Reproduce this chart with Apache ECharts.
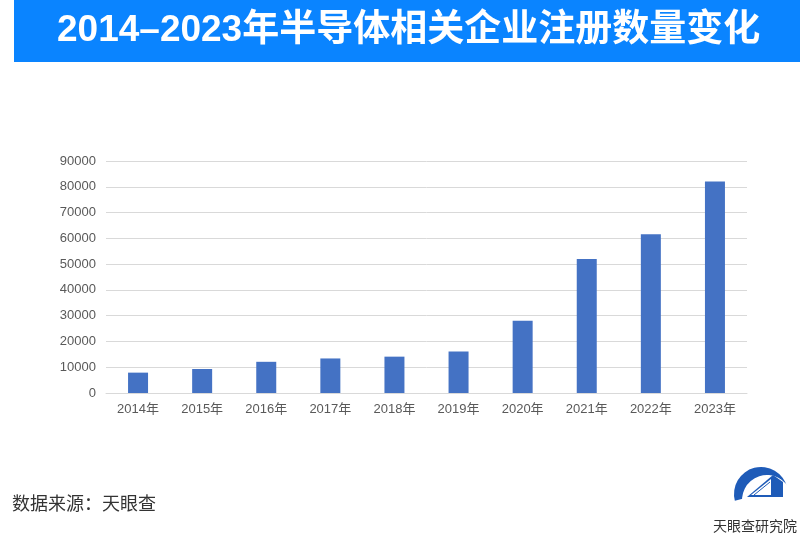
<!DOCTYPE html>
<html>
<head>
<meta charset="utf-8">
<script src="https://cdn.jsdelivr.net/npm/echarts@6/dist/echarts.min.js"></script>
<style>
html,body{margin:0;padding:0;background:#fff;}
#main{width:800px;height:535px;}
</style>
</head>
<body>
<div id="main"></div>
<script>
var titleText = '2014–2023年半导体相关企业注册数量变化';
var sourceText = '数据来源：天眼查';
var logoText = '天眼查研究院';
var categories = ['2014年','2015年','2016年','2017年','2018年','2019年','2020年','2021年','2022年','2023年'];
var values = [7900, 9300, 12100, 13400, 14100, 16100, 28000, 52000, 61600, 82000];
var yMax = 90000;
var yInterval = 10000;

var chart = echarts.init(document.getElementById('main'), null, {renderer:'canvas'});
var fontLatin = "Arial, 'Liberation Sans', 'Noto Sans CJK SC', sans-serif";
var fontCJK = "'Noto Sans CJK SC', sans-serif";

chart.setOption({
  animation: false,
  backgroundColor: '#ffffff',
  grid: {left: 106, right: 53, top: 161, bottom: 142, containLabel: false},
  xAxis: {
    type: 'category',
    data: categories,
    axisLine: {show: true, lineStyle: {color: '#d9d9d9', width: 1}},
    axisTick: {show: false},
    axisLabel: {color: '#595959', fontSize: 13, margin: 10, fontFamily: fontLatin}
  },
  yAxis: {
    type: 'value',
    min: 0,
    max: yMax,
    interval: yInterval,
    axisLine: {show: false},
    axisTick: {show: false},
    axisLabel: {color: '#595959', fontSize: 13, margin: 10, fontFamily: fontLatin,
      formatter: function (v) { return String(v); }},
    splitLine: {lineStyle: {color: '#d9d9d9', width: 1}}
  },
  series: [{
    type: 'bar',
    data: values,
    barWidth: 20,
    itemStyle: {color: '#4472c4'}
  }],
  graphic: [
    {type: 'rect', left: 14, top: 0, shape: {width: 786, height: 62}, style: {fill: '#0a84ff'}, z: 0},
    {type: 'text', left: 57, top: 12, style: {text: titleText, fill: '#ffffff', font: 'bold 37px ' + fontLatin}, z: 1},
    {type: 'text', left: 12, top: 494, style: {text: sourceText, fill: '#333333', font: '18px ' + fontCJK}},
    {type: 'group', left: 734, top: 467, z: 1, children: [
      {type: 'sector', z: 1, shape: {cx: 26, cy: 40, r: 27, r0: 0, startAngle: Math.PI*0.92, endAngle: Math.PI*1.92}, style: {fill: '#1e5bb8'}},
      {type: 'sector', z: 2, shape: {cx: 32, cy: 46, r: 25, r0: 0, startAngle: Math.PI*0.9, endAngle: Math.PI*2.0}, style: {fill: '#ffffff'}},
      {type: 'polygon', z: 3, shape: {points: [[12,43],[38,21],[48,28],[48,43]]}, style: {fill: '#1e5bb8'}},
      {type: 'polygon', z: 4, shape: {points: [[16,41],[36,25],[36,41]]}, style: {fill: '#ffffff'}},
      {type: 'polyline', z: 5, shape: {points: [[19,41],[35,28]]}, style: {stroke: '#1e5bb8', lineWidth: 1}}
    ]},
    {type: 'text', left: 713, top: 519, z: 10, style: {text: logoText, fill: '#333333', font: '14px ' + fontCJK}}
  ]
});
</script>
</body>
</html>
